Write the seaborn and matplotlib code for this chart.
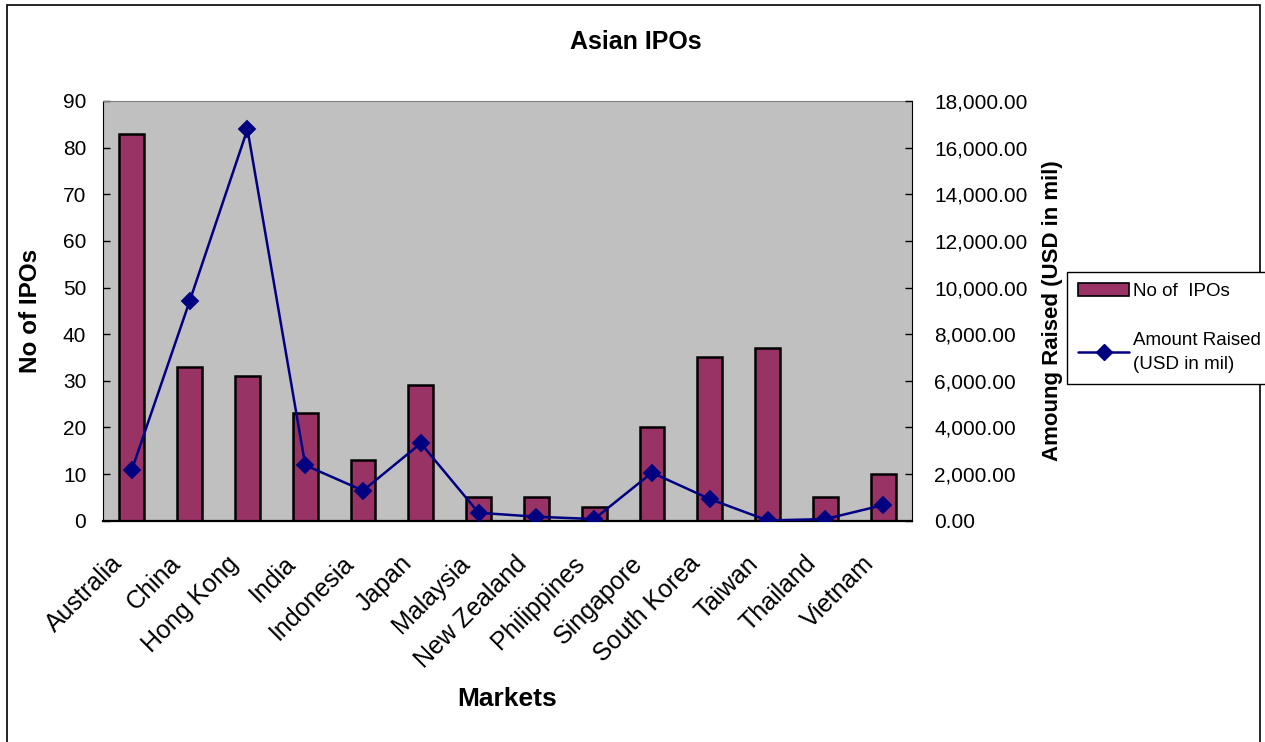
import numpy as np
import matplotlib
matplotlib.use("Agg")
import matplotlib.pyplot as plt
import matplotlib.transforms as mtransforms
import seaborn as sns
from matplotlib.patches import Rectangle
from matplotlib.ticker import FuncFormatter, FixedLocator


markets = ['Australia', 'China', 'Hong Kong', 'India', 'Indonesia', 'Japan',
           'Malaysia', 'New Zealand', 'Philippines', 'Singapore',
           'South Korea', 'Taiwan', 'Thailand', 'Vietnam']
no_of_ipos = [83, 33, 31, 23, 13, 29, 5, 5, 3, 20, 35, 37, 5, 10]
amount_raised = [2190, 9420, 16790, 2380, 1290, 3320, 340, 170, 70,
                 2060, 930, 10, 70, 670]

left_ticks = list(range(0, 91, 10))
right_ticks = list(range(0, 18001, 2000))

bar_color = "#993366"
line_color = "#000080"

sns.set_style("white")
plt.rcParams['font.family'] = ['Liberation Sans', 'DejaVu Sans']
plt.rcParams['text.color'] = "black"
plt.rcParams['axes.labelcolor'] = "black"
plt.rcParams['xtick.color'] = "black"
plt.rcParams['ytick.color'] = "black"

fig = plt.figure(figsize=(12.65, 7.42), dpi=100)
ax = fig.add_axes([103 / 1265, 1 - 520.7 / 742, (912 - 103) / 1265, (520.7 - 101) / 742])
ax.set_facecolor("#C0C0C0")

sns.barplot(x=markets, y=no_of_ipos, ax=ax, color=bar_color, width=0.43,
            edgecolor="black", linewidth=1.8, saturation=1)

ax2 = ax.twinx()
sns.pointplot(x=markets, y=amount_raised, ax=ax2, color=line_color,
              markers="D", markersize=8, linewidth=1.8)

n = len(markets)
ax.set_xlim(-0.5, n - 0.5)
ax.set_ylim(0, 90)
ax2.set_ylim(0, 18000)
ax.set_yticks(left_ticks)
ax2.set_yticks(right_ticks)
ax2.yaxis.set_major_formatter(FuncFormatter(lambda v, p: f"{v:,.2f}"))

ax.set_xticks(range(n))
ax.xaxis.set_minor_locator(FixedLocator(np.arange(-0.5, n, 1.0)))
ax.tick_params(axis="x", which="major", length=0, pad=31)
ax.tick_params(axis="x", which="minor", direction="in", length=6, width=1, color="black")
ax.tick_params(axis="y", direction="in", length=5, width=1, color="black", labelsize=15, pad=12, left=True)
ax2.tick_params(axis="y", direction="in", length=5, width=1, color="black", labelsize=15, pad=16, right=True)

ax.set_xticklabels(markets, rotation=45, ha="right", va="center",
                   rotation_mode="anchor", fontsize=18)
# nudge the slanted labels left/up like the original
shift = mtransforms.ScaledTranslation(-0.13, 0.04, fig.dpi_scale_trans)
for tick in ax.xaxis.get_major_ticks():
    tick.label1.set_transform(tick.label1.get_transform() + shift)

for a in (ax, ax2):
    for s in a.spines.values():
        s.set_visible(False)
ax.spines["left"].set_visible(True)
ax.spines["left"].set_color("black")
ax.spines["bottom"].set_visible(True)
ax.spines["bottom"].set_color("black")
ax.spines["bottom"].set_linewidth(1.6)
ax2.spines["right"].set_visible(True)
ax2.spines["right"].set_color("black")
ax.spines["top"].set_visible(True)
ax.spines["top"].set_color("#808080")

ax.set_xlabel("Markets", fontsize=19, fontweight="bold", va="center")
ax.xaxis.set_label_coords(0.5, (520.7 - 699) / 419.7)
ax.set_ylabel("No of IPOs", fontsize=17.5, fontweight="bold", va="center")
ax.yaxis.set_label_coords((30 - 103) / 809, 0.5)
ax2.set_ylabel("Amoung Raised (USD in mil)", fontsize=16, fontweight="bold", va="center")
ax2.yaxis.set_label_coords((1053 - 103) / 809, 0.5)

fig.text(0.503, 1 - 42 / 742, "Asian IPOs", ha="center", va="center",
         fontsize=18, fontweight="bold")

bar_handle = Rectangle((0, 0), 1, 1, facecolor=bar_color, edgecolor="black", linewidth=1.2)
line_handle = plt.Line2D([], [], color=line_color, marker="D", markersize=8, linewidth=1.8)
leg = fig.legend([bar_handle, line_handle], ["No of  IPOs", "Amount Raised\n(USD in mil)"],
                 loc="upper left", bbox_to_anchor=(1067 / 1265, 1 - 272 / 742),
                 fontsize=13.5, frameon=True, fancybox=False, edgecolor="black",
                 framealpha=1, borderpad=0.6, labelspacing=1.7, handlelength=2.7,
                 handletextpad=0.2, borderaxespad=0)
leg.get_frame().set_linewidth(1.0)
for t in leg.get_texts():
    t.set_linespacing(1.5)

fig.patches.append(Rectangle((7 / 1265, -0.05), (1260 - 7) / 1265, 1.05 - 5 / 742,
                             transform=fig.transFigure, fill=False,
                             edgecolor="black", linewidth=1.2, figure=fig))

fig.savefig("out.png", dpi=100)
